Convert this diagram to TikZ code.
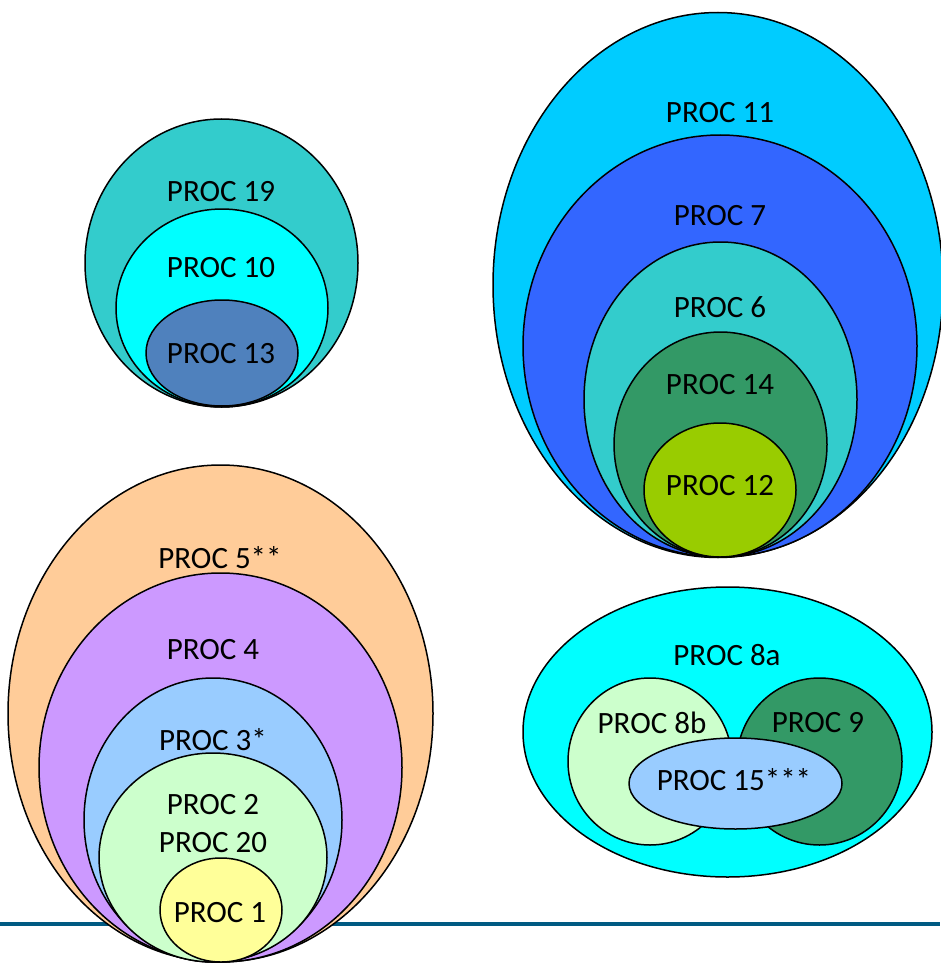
\documentclass[tikz,border=0pt]{standalone}
\usepackage{fontspec}
\setmainfont{Carlito}
\usetikzlibrary{shapes.geometric}
\definecolor{cTeal}{HTML}{33CCCC}
\definecolor{cCyan}{HTML}{00FFFF}
\definecolor{cSteel}{HTML}{4F81BD}
\definecolor{cSky}{HTML}{00CCFF}
\definecolor{cRoyal}{HTML}{3366FF}
\definecolor{cGreen}{HTML}{339966}
\definecolor{cLime}{HTML}{99CC00}
\definecolor{cPeach}{HTML}{FFCC99}
\definecolor{cLav}{HTML}{CC99FF}
\definecolor{cPale}{HTML}{99CCFF}
\definecolor{cMint}{HTML}{CCFFCC}
\definecolor{cYel}{HTML}{FFFF99}
\definecolor{cLine}{HTML}{005A82}
\tikzset{
  blob/.style={ellipse, draw=black, line width=1.5pt, inner sep=0pt, outer sep=0pt},
  lbl/.style={inner sep=0pt, font=\fontsize{31}{37}\selectfont, text=black},
  rule/.style={line width=3.2pt, draw=cLine}
}
\begin{document}
\begin{tikzpicture}[x=1pt,y=-1pt]
\useasboundingbox (0,0) rectangle (940,963);
% bottom rule
\coordinate (r1) at (0,924);
\coordinate (r2) at (940,924);
\draw[rule] (r1) -- (r2);
% group top-left
\node[blob, fill=cTeal, minimum width=273pt, minimum height=288pt] (e19) at (221.5,263) {};
\node[blob, fill=cCyan, minimum width=212pt, minimum height=198pt] (e10) at (222,308) {};
\node[blob, fill=cSteel, minimum width=152pt, minimum height=106pt] (e13) at (222,353) {};
\node[lbl] (t19) at (221,192) {PROC 19};
\node[lbl] (t10) at (221,268) {PROC 10};
\node[lbl] (t13) at (221,354) {PROC 13};
% group top-right
\node[blob, fill=cSky, minimum width=450pt, minimum height=545pt] (e11) at (718,285) {};
\node[blob, fill=cRoyal, minimum width=394pt, minimum height=422pt] (e7) at (720,346) {};
\node[blob, fill=cTeal, minimum width=273pt, minimum height=315pt] (e6) at (720.5,399.5) {};
\node[blob, fill=cGreen, minimum width=213pt, minimum height=225pt] (e14) at (720.5,444.5) {};
\node[blob, fill=cLime, minimum width=152pt, minimum height=134pt] (e12) at (720,490) {};
\node[lbl] (t11) at (720,113) {PROC 11};
\node[lbl] (t7) at (720,216) {PROC 7};
\node[lbl] (t6) at (720,307) {PROC 6};
\node[lbl] (t14) at (720,385) {PROC 14};
\node[lbl] (t12) at (720,486) {PROC 12};
% group bottom-left
\node[blob, fill=cPeach, minimum width=425pt, minimum height=497pt] (e5) at (220.5,713.5) {};
\node[blob, fill=cLav, minimum width=363pt, minimum height=389pt] (e4) at (220.5,767.5) {};
\node[blob, fill=cPale, minimum width=258pt, minimum height=284pt] (e3) at (213,820) {};
\node[blob, fill=cMint, minimum width=228pt, minimum height=209pt] (e2) at (213,857.5) {};
\node[blob, fill=cYel, minimum width=122pt, minimum height=104pt] (e1) at (221,910) {};
\node[lbl] (t5) at (220,558) {PROC 5**};
\node[lbl] (t4) at (213,650) {PROC 4};
\node[lbl] (t3) at (213,740) {PROC 3*};
\node[lbl] (t2) at (213,805) {PROC 2};
\node[lbl] (t20) at (213,843) {PROC 20};
\node[lbl] (t1) at (220,913) {PROC 1};
% group bottom-right
\node[blob, fill=cCyan, minimum width=409pt, minimum height=290pt] (e8a) at (727.5,732) {};
\node[blob, fill=cMint, minimum width=164pt, minimum height=167pt] (e8b) at (650,761.5) {};
\node[blob, fill=cGreen, minimum width=165pt, minimum height=167pt] (e9) at (819.5,761.5) {};
\node[blob, fill=cPale, minimum width=213pt, minimum height=91pt] (e15) at (735.5,783.5) {};
\node[lbl] (t8a) at (727,655) {PROC 8a};
\node[lbl] (t8b) at (652,723) {PROC 8b};
\node[lbl] (t9) at (818,723) {PROC 9};
\node[lbl] (t15) at (734,780) {PROC 15***};
\end{tikzpicture}
\end{document}
